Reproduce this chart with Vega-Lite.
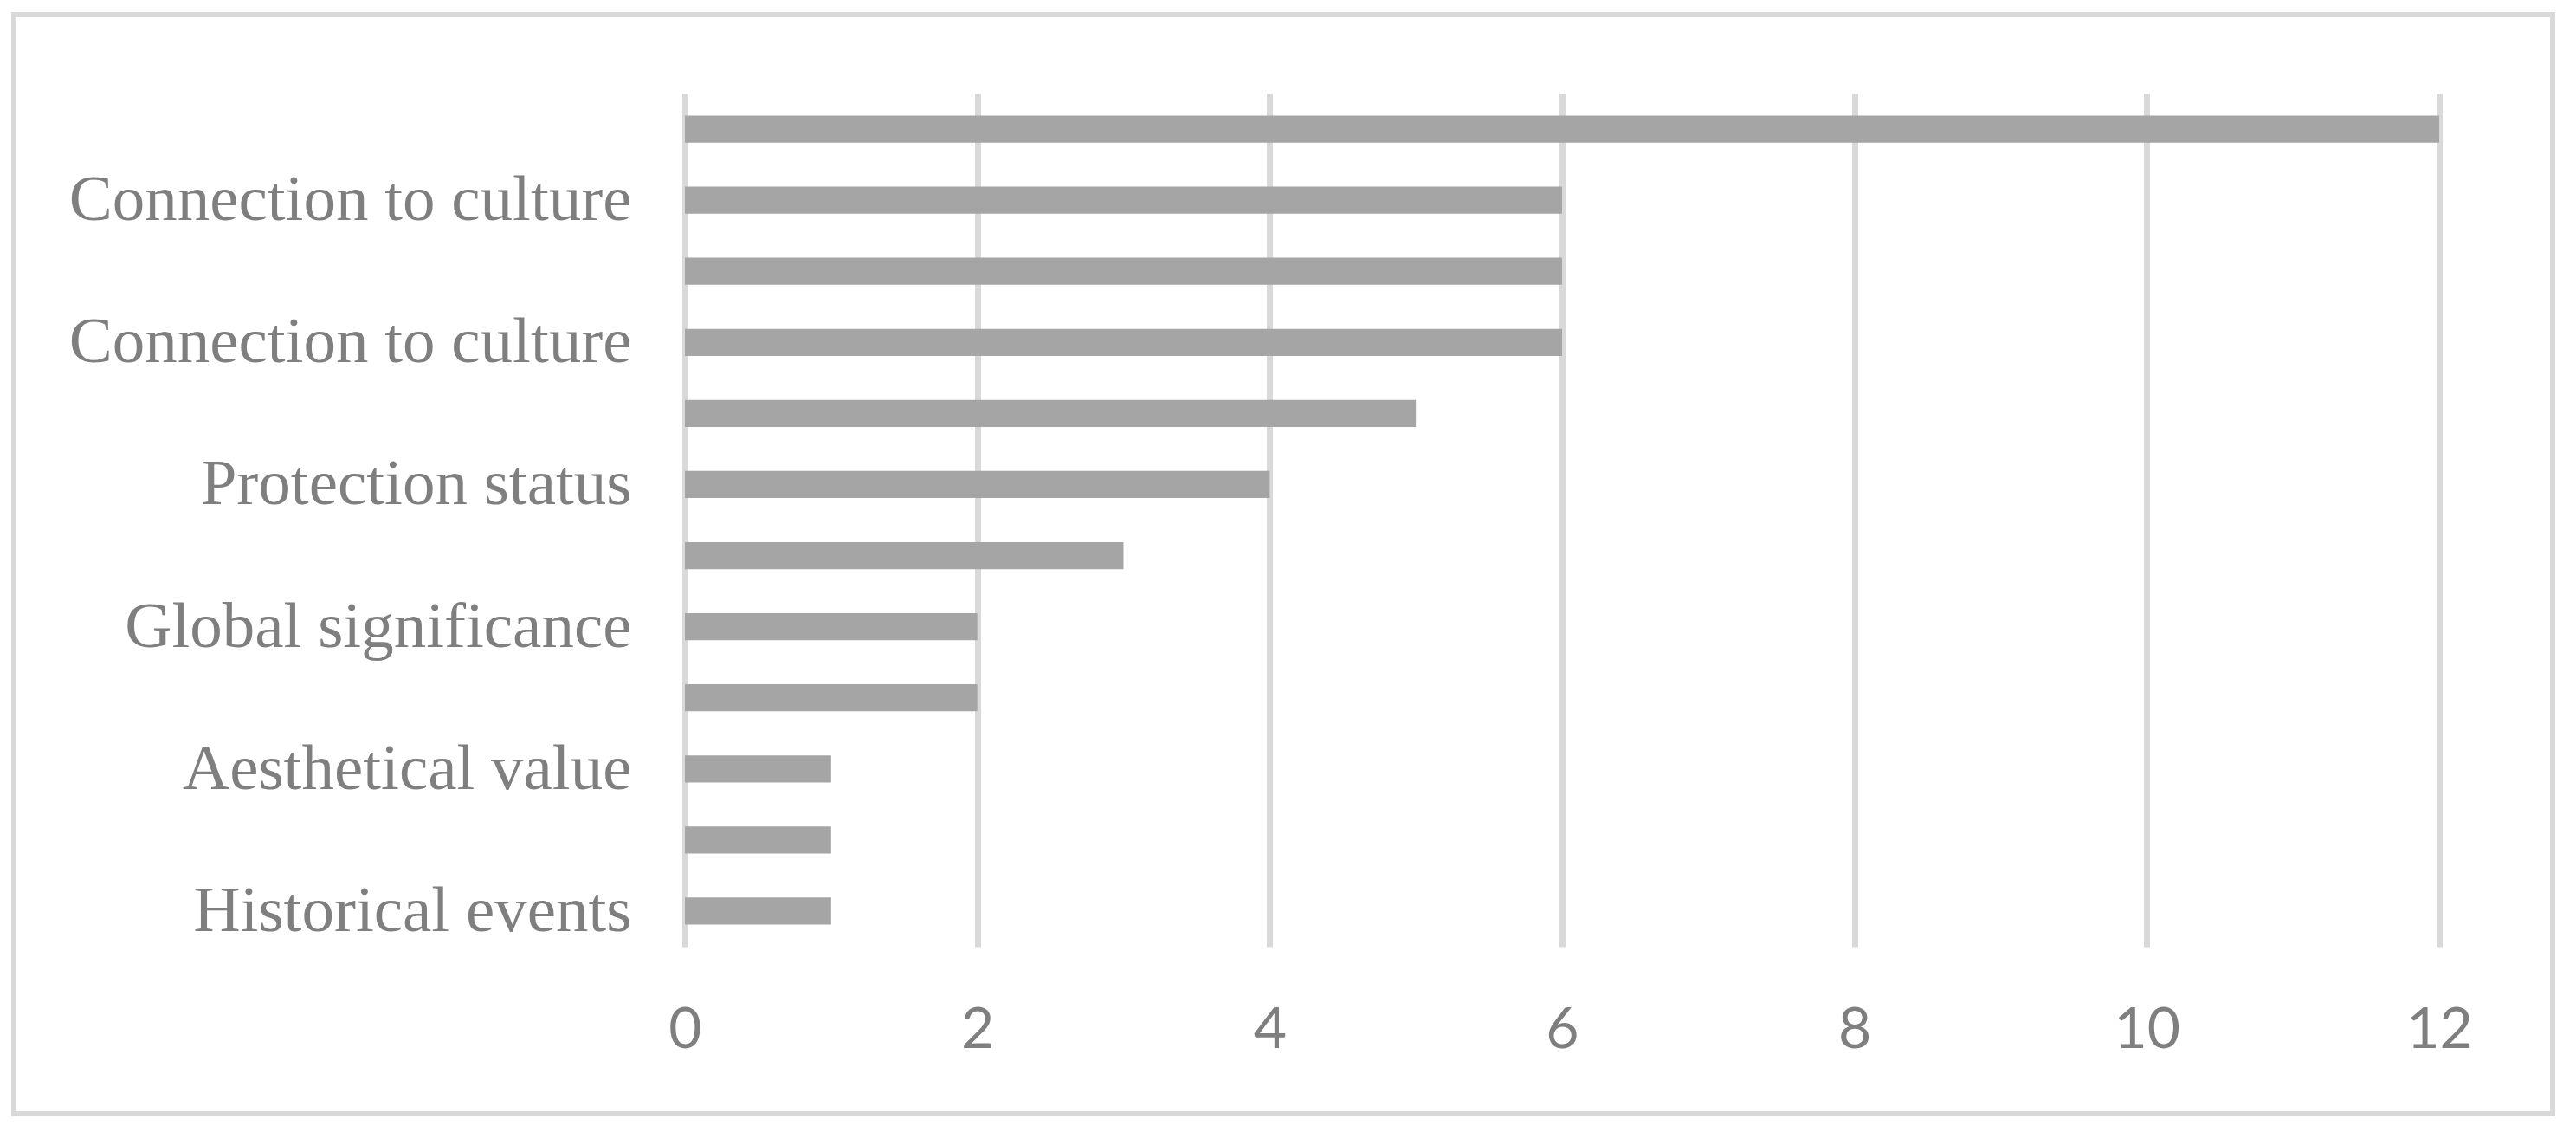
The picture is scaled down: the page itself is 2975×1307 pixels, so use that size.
{
  "$schema": "https://vega.github.io/schema/vega-lite/v6.json",
  "width": 2026,
  "height": 985,
  "autosize": {"type": "none"},
  "padding": {"left": 791, "top": 108, "right": 158, "bottom": 214},
  "background": "white",
  "config": {"view": {"stroke": null}},
  "data": {
    "values": [
      {"key": "01|", "count": 12},
      {"key": "02|Connection to culture", "count": 6},
      {"key": "03|", "count": 6},
      {"key": "04|Connection to culture", "count": 6},
      {"key": "05|", "count": 5},
      {"key": "06|Protection status", "count": 4},
      {"key": "07|", "count": 3},
      {"key": "08|Global significance", "count": 2},
      {"key": "09|", "count": 2},
      {"key": "10|Aesthetical value", "count": 1},
      {"key": "11|", "count": 1},
      {"key": "12|Historical events", "count": 1}
    ]
  },
  "layer": [
    {
      "mark": {"type": "bar", "color": "#a5a5a5"},
      "encoding": {
        "y": {
          "field": "key",
          "type": "nominal",
          "sort": null,
          "scale": {"paddingInner": 0.62, "paddingOuter": 0.31},
          "axis": {
            "title": null,
            "domain": false,
            "ticks": false,
            "grid": false,
            "labelExpr": "split(datum.value, '|')[1]",
            "labelFont": "Liberation Serif",
            "labelFontSize": 75,
            "labelColor": "#7f7f7f",
            "labelPadding": 62,
            "labelLimit": 0
          }
        },
        "x": {
          "field": "count",
          "type": "quantitative",
          "scale": {"domain": [0, 12], "nice": false},
          "axis": {
            "title": null,
            "values": [0, 2, 4, 6, 8, 10, 12],
            "domain": false,
            "ticks": false,
            "grid": true,
            "gridColor": "#d9d9d9",
            "gridWidth": 7,
            "labelFont": "Lato",
            "labelFontSize": 66,
            "labelColor": "#7f7f7f",
            "labelPadding": 64,
            "labelFlush": false
          }
        }
      }
    },
    {
      "data": {"values": [{}]},
      "mark": {"type": "rect", "fill": null, "stroke": "#d9d9d9", "strokeWidth": 6},
      "encoding": {
        "x": {"value": -775},
        "x2": {"value": 2157},
        "y": {"value": -91},
        "y2": {"value": 1178}
      }
    }
  ]
}
